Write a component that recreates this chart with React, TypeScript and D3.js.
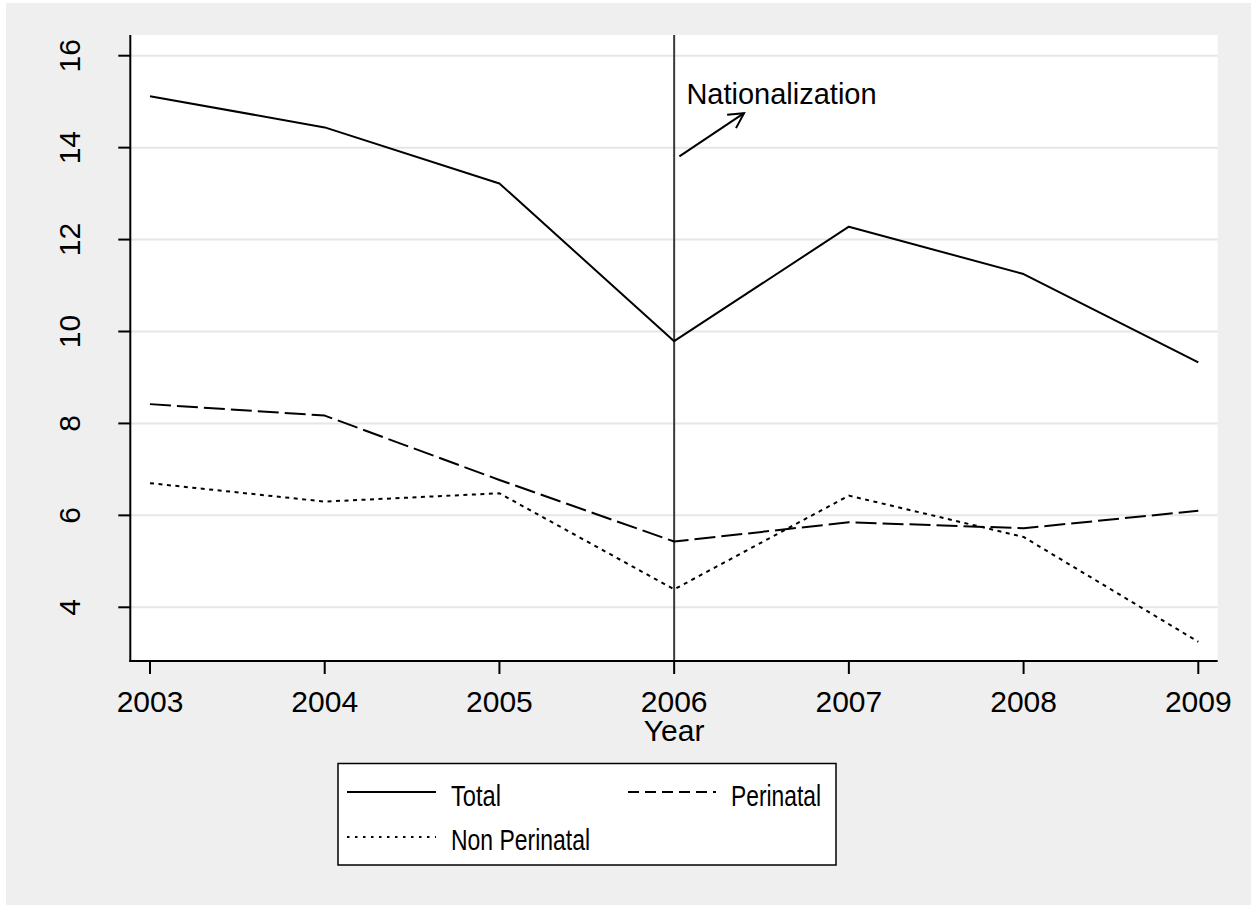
import React from "react";
import * as d3 from "d3";

// Years on the horizontal axis
const years = [2003, 2004, 2005, 2006, 2007, 2008, 2009];
// Rates per series
const totalValues = [15.12, 14.44, 13.22, 9.79, 12.28, 11.25, 9.33];
const perinatalValues = [8.42, 8.17, 6.77, 5.43, 5.85, 5.72, 6.1];
const nonPerinatalValues = [6.7, 6.3, 6.48, 4.39, 6.43, 5.53, 3.25];
// Tick values
const yTicks = [4, 6, 8, 10, 12, 14, 16];
const xTicks = [2003, 2004, 2005, 2006, 2007, 2008, 2009];
// Event marker
const eventYear = 2006;
const eventLabel = "Nationalization";
const arrowFrom = { x: 2006.03, y: 13.81 };
const arrowTo = { x: 2006.4, y: 14.75 };
const labelAt = { x: 2006.07, y: 14.94 };

const W = 1255;
const H = 906;
const FONT = "'Liberation Sans', Arial, Helvetica, sans-serif";

export default function App() {
  const plot = { left: 130.3, right: 1217.7, top: 35, bottom: 661 };
  const x = d3.scaleLinear().domain([2003, 2009]).range([150, 1198.3]);
  const y = d3.scaleLinear().domain([4, 16]).range([607.3, 55.7]);

  const line = d3
    .line<[number, number]>()
    .x((d) => x(d[0]))
    .y((d) => y(d[1]));

  const series = [
    { name: "Total", values: totalValues, dash: undefined as string | undefined },
    { name: "Perinatal", values: perinatalValues, dash: "21,6" },
    { name: "Non Perinatal", values: nonPerinatalValues, dash: "4,4.5" },
  ];

  // arrow geometry
  const ax1 = x(arrowFrom.x);
  const ay1 = y(arrowFrom.y);
  const ax2 = x(arrowTo.x);
  const ay2 = y(arrowTo.y);
  const ang = Math.atan2(ay2 - ay1, ax2 - ax1);
  const headLen = 17;
  const headAng = (28 * Math.PI) / 180;
  const h1 = [ax2 - headLen * Math.cos(ang - headAng), ay2 - headLen * Math.sin(ang - headAng)];
  const h2 = [ax2 - headLen * Math.cos(ang + headAng), ay2 - headLen * Math.sin(ang + headAng)];

  return (
    <svg
      width={W}
      height={H}
      style={{ position: "absolute", left: 0, top: 0, display: "block" }}
      fontFamily={FONT}
    >
      <rect x={0} y={0} width={W} height={H} fill="#ffffff" />
      <rect x={6} y={3} width={1245} height={902} fill="#efefef" />
      <rect
        x={plot.left}
        y={plot.top}
        width={plot.right - plot.left}
        height={plot.bottom - plot.top}
        fill="#ffffff"
      />

      {/* horizontal grid */}
      {yTicks.map((t) => (
        <line
          key={"g" + t}
          x1={plot.left}
          x2={plot.right}
          y1={y(t)}
          y2={y(t)}
          stroke="#e6e6e6"
          strokeWidth={2}
        />
      ))}

      {/* event marker line */}
      <line
        x1={x(eventYear)}
        x2={x(eventYear)}
        y1={plot.top}
        y2={plot.bottom}
        stroke="#3a3a3a"
        strokeWidth={2}
      />

      {/* series lines */}
      {series.map((s) => (
        <path
          key={s.name}
          d={line(years.map((yr, i) => [yr, s.values[i]] as [number, number])) || ""}
          fill="none"
          stroke="#000"
          strokeWidth={2}
          strokeDasharray={s.dash}
          strokeLinejoin="round"
        />
      ))}

      {/* annotation */}
      <line x1={ax1} y1={ay1} x2={ax2} y2={ay2} stroke="#000" strokeWidth={2} />
      <polyline
        points={`${h1[0]},${h1[1]} ${ax2},${ay2} ${h2[0]},${h2[1]}`}
        fill="none"
        stroke="#000"
        strokeWidth={2}
      />
      <text x={x(labelAt.x)} y={y(labelAt.y)} fontSize={29} fill="#000">
        {eventLabel}
      </text>

      {/* y axis */}
      <line x1={plot.left} x2={plot.left} y1={plot.top} y2={plot.bottom + 1} stroke="#000" strokeWidth={2} />
      {yTicks.map((t) => (
        <g key={"y" + t}>
          <line x1={plot.left - 12} x2={plot.left} y1={y(t)} y2={y(t)} stroke="#000" strokeWidth={2} />
          <text
            transform={`translate(80,${y(t)}) rotate(-90)`}
            textAnchor="middle"
            fontSize={30}
            fill="#000"
          >
            {t}
          </text>
        </g>
      ))}

      {/* x axis */}
      <line x1={plot.left - 1} x2={plot.right} y1={plot.bottom} y2={plot.bottom} stroke="#000" strokeWidth={2} />
      {xTicks.map((t) => (
        <g key={"x" + t}>
          <line x1={x(t)} x2={x(t)} y1={plot.bottom} y2={plot.bottom + 13} stroke="#000" strokeWidth={2} />
          <text x={x(t)} y={712} textAnchor="middle" fontSize={30} fill="#000">
            {t}
          </text>
        </g>
      ))}
      <text x={x(eventYear)} y={741} textAnchor="middle" fontSize={30} fill="#000">
        Year
      </text>

      {/* legend */}
      <rect x={338} y={763.5} width={498} height={101.5} fill="#fff" stroke="#000" strokeWidth={1.5} />
      <line x1={347} x2={436} y1={792} y2={792} stroke="#000" strokeWidth={2} />
      <text x={451} y={806} fontSize={30} textLength={50} lengthAdjust="spacingAndGlyphs">
        Total
      </text>
      <line x1={628} x2={716} y1={792} y2={792} stroke="#000" strokeWidth={2} strokeDasharray="11,6" />
      <text x={731} y={806} fontSize={30} textLength={90} lengthAdjust="spacingAndGlyphs">
        Perinatal
      </text>
      <line x1={347} x2={436} y1={837} y2={837} stroke="#000" strokeWidth={2} strokeDasharray="2.5,5.5" />
      <text x={451} y={850} fontSize={30} textLength={139} lengthAdjust="spacingAndGlyphs">
        Non Perinatal
      </text>
    </svg>
  );
}
